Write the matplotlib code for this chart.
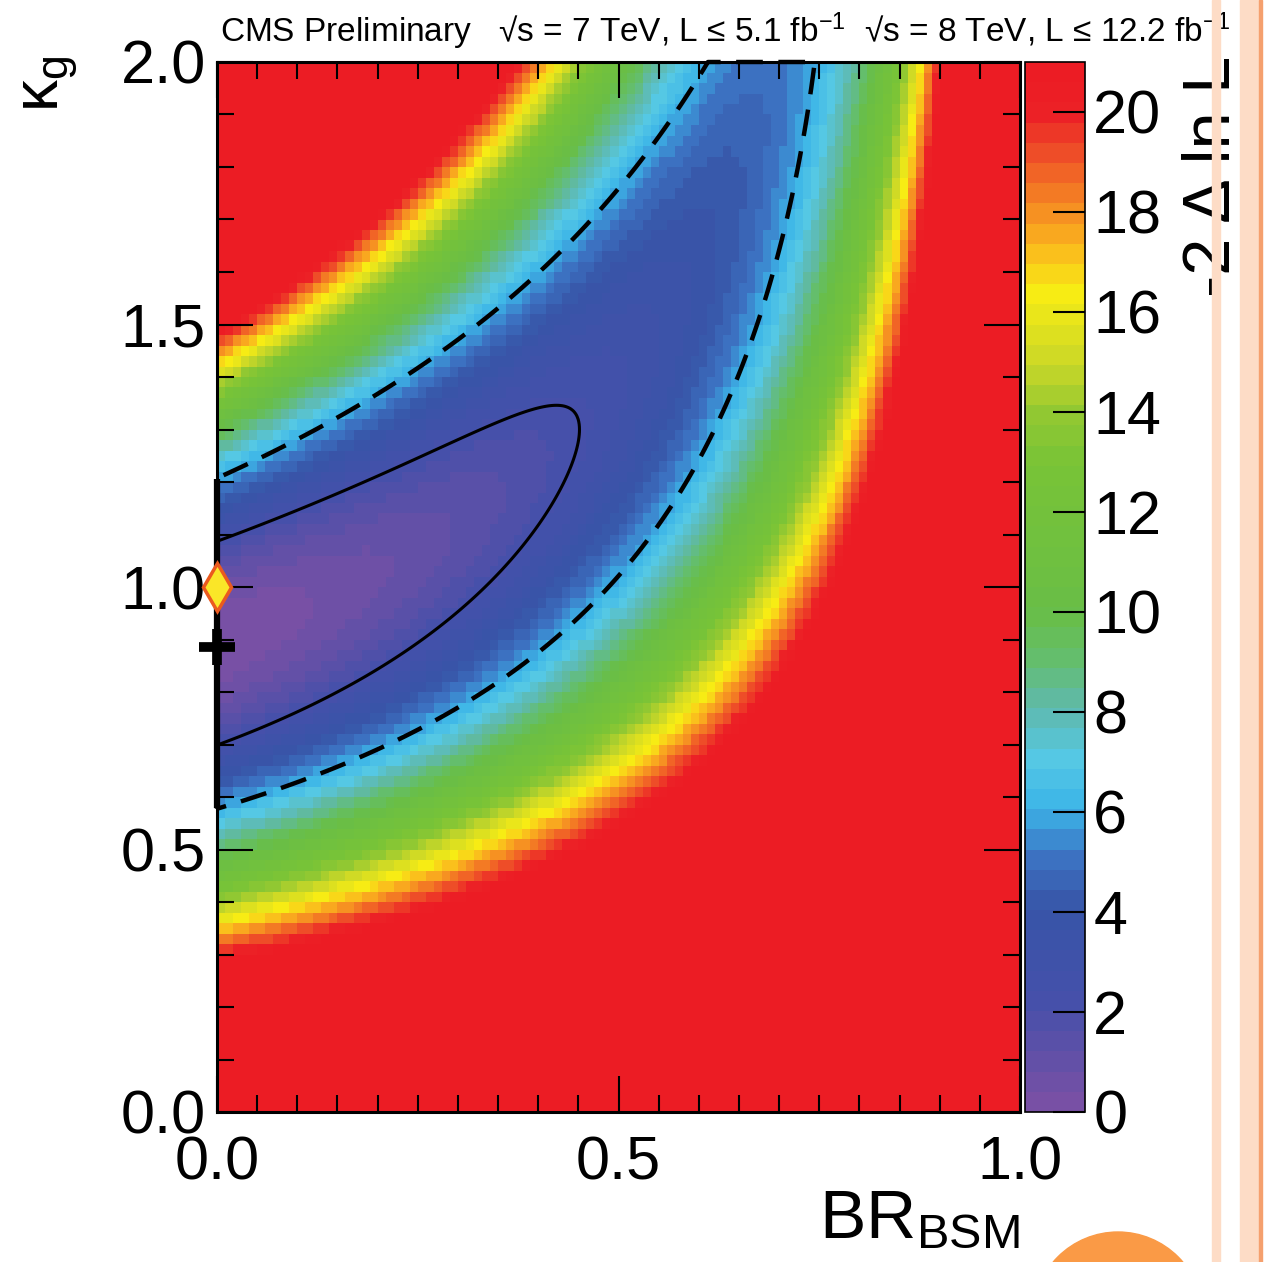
import numpy as np
import matplotlib
matplotlib.use("Agg")
import matplotlib.pyplot as plt
from matplotlib.colors import LinearSegmentedColormap, Normalize
from matplotlib.patches import Rectangle, Ellipse

# likelihood model parameters, tuned to the contours
width_frac = 0.0771                 # gluon share of the total width
ggh = [0.6080, 0.8434, 0.1520]      # exponent, central value, sigma (gg signal strength)
vbf = [0.6318, 1.2757, 0.3649]      # exponent, central value, sigma (vector boson signal strength)
corr = 0.3593
best_br, best_kg = 0.0, 0.886       # best fit cross
sm_br, sm_kg = 0.0, 1.0             # SM diamond
cl_levels = [2.3, 5.99]
cbar_ticks = list(range(0, 21, 2))


def nll2(B, K):
    w = 1 - width_frac + width_frac * K ** 2
    u = K ** 2 * (1 - B) / w
    v = (1 - B) / w
    d1 = (u ** ggh[0] - ggh[1]) / ggh[2]
    d2 = (v ** vbf[0] - vbf[1]) / vbf[2]
    return (d1 ** 2 + d2 ** 2 + 2 * corr * d1 * d2) / (1 - corr ** 2)


plt.rcParams['font.family'] = ['Liberation Sans', 'DejaVu Sans']
plt.rcParams['mathtext.fontset'] = 'custom'
plt.rcParams['mathtext.rm'] = 'Liberation Sans'
plt.rcParams['mathtext.it'] = 'Liberation Sans:italic'

stops = [(0, (120, 80, 165)), (2, (70, 80, 170)), (4, (55, 85, 168)), (5, (60, 115, 195)),
         (6, (60, 180, 232)), (7, (85, 200, 228)), (8, (95, 185, 175)), (9, (100, 190, 110)),
         (10, (105, 190, 70)), (13, (120, 195, 55)), (14, (145, 200, 50)), (15, (200, 215, 40)),
         (16.5, (248, 236, 20)), (17.5, (250, 180, 30)), (18.3, (245, 135, 35)),
         (19.3, (238, 80, 40)), (20.2, (236, 32, 38)), (21, (236, 28, 36))]
cmap = LinearSegmentedColormap.from_list(
    "root", [(v / 21, tuple(c / 255 for c in col)) for v, col in stops], N=52)
norm = Normalize(0, 21)

W, H = 1268, 1262
fig = plt.figure(figsize=(W / 100, H / 100), dpi=100)
ax = fig.add_axes([217 / W, 1 - 1112 / H, 803 / W, 1050 / H])
cax = fig.add_axes([1025 / W, 1 - 1112 / H, 60 / W, 1050 / H])

# fine grid for the contours, padded so the lines close along the left and top edges
bb = np.concatenate([[-0.0025], np.linspace(0, 1, 401)])
kk = np.concatenate([np.linspace(0, 2, 401), [2.0025]])
fb, fk = np.meshgrid(bb, kk)
fz = nll2(np.clip(fb, 0, 1), np.clip(fk, 0, 2))
zmin = fz.min()
fz = fz - zmin
edge_k = kk[:-1][fz[:-1, 1] < cl_levels[1]]
fz[:, 0] = 99
fz[-1, :] = 99

# coarse binned map like the original histogram
be = np.linspace(0, 1, 101)
ke = np.linspace(0, 2, 101)
bc, kc = np.meshgrid(0.5 * (be[1:] + be[:-1]), 0.5 * (ke[1:] + ke[:-1]))
z = nll2(bc, kc) - zmin
mesh = ax.pcolormesh(be, ke, np.clip(z, 0, 21), cmap=cmap, norm=norm)

c1 = ax.contour(fb, fk, fz, levels=[cl_levels[0]], colors='k', linewidths=2.2)
c2 = ax.contour(fb, fk, fz, levels=[cl_levels[1]], colors='k', linewidths=3.2,
                linestyles=[(0, (6, 3.5))])
c1.set_clip_on(False)
c2.set_clip_on(False)
# the closed contour runs along the left edge
ax.plot([0, 0], [edge_k.min(), edge_k.max()], color='k', lw=4.5, clip_on=False,
        solid_capstyle='butt', zorder=4)

ax.plot(best_br, best_kg, marker='+', ms=26, mew=7, color='k', clip_on=False, zorder=5)
ax.plot(sm_br, sm_kg, marker='d', ms=24, mfc='#FAE628', mec='#EB5A1E', mew=2.5,
        clip_on=False, zorder=6)

ax.set_xlim(0, 1)
ax.set_ylim(0, 2)
ax.set_xticks([0, 0.5, 1.0])
ax.set_yticks([0, 0.5, 1.0, 1.5, 2.0])
ax.set_xticks(np.arange(0, 1.001, 0.05), minor=True)
ax.set_yticks(np.arange(0, 2.001, 0.1), minor=True)
ax.xaxis.set_major_formatter(matplotlib.ticker.FormatStrFormatter('%.1f'))
ax.yaxis.set_major_formatter(matplotlib.ticker.FormatStrFormatter('%.1f'))
ax.tick_params(which='both', direction='in', top=True, right=True, labelsize=44, width=1.5)
ax.tick_params(which='major', length=26)
ax.tick_params(which='minor', length=12)
ax.tick_params(axis='x', pad=17)
ax.tick_params(axis='y', pad=8)
for s in ax.spines.values():
    s.set_linewidth(2.2)

cb = fig.colorbar(mesh, cax=cax)
cb.set_ticks(cbar_ticks)
cb.outline.set_linewidth(1.2)
cax.tick_params(direction='in', length=23, width=1.5, labelsize=44, pad=6)

fig.text(220 / W, 1 - 42 / H,
         "CMS Preliminary   √s = 7 TeV, L ≤ 5.1 fb$^{-1}$  √s = 8 TeV, L ≤ 12.2 fb$^{-1}$",
         fontsize=24, va='baseline', ha='left')
fig.text(50 / W, 1 - 55 / H, "κ$_{\\mathrm{g}}$", rotation=90, fontsize=46, ha='center', va='top')
fig.text(1020 / W, 1 - 1238 / H, r"BR$_{\mathrm{BSM}}$", fontsize=50, ha='right', va='baseline')
fig.text(1213 / W, 1 - 56 / H, "-2 Δ ln L", rotation=90, fontsize=48, ha='center', va='top')

# slide decoration on the right
peach = '#FDDCC6'
fig.add_artist(Rectangle((1212 / W, 0), 8 / W, 1, transform=fig.transFigure, color=peach, zorder=10))
fig.add_artist(Rectangle((1240 / W, 0), 20 / W, 1, transform=fig.transFigure, color=peach, zorder=10))
fig.add_artist(Rectangle((1259 / W, 0), 3 / W, 1, transform=fig.transFigure, color='#F5A06E', zorder=10))
fig.add_artist(Ellipse((1118 / W, 1 - 1317 / H), 170 / W, 170 / H, transform=fig.transFigure,
                       color='#FA9A46', zorder=10))

fig.savefig("out.png", dpi=100)
